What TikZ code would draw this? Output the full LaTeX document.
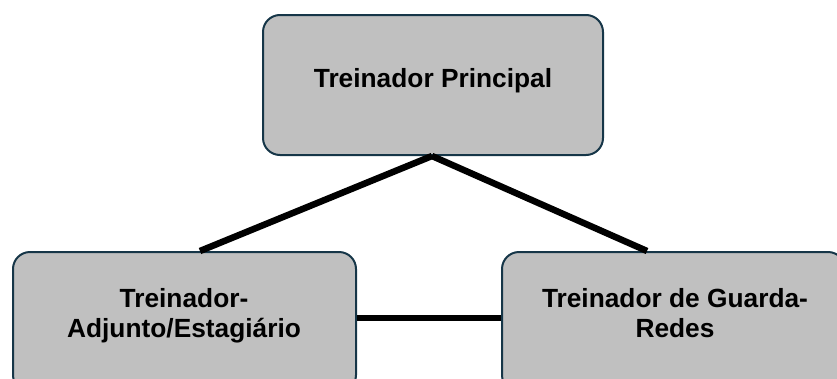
\documentclass[tikz,border=0pt]{standalone}
\usepackage{fontspec}
\setmainfont{Liberation Sans}
\definecolor{boxborder}{RGB}{22,54,72}
\definecolor{boxfill}{RGB}{192,192,192}
\begin{document}
\begin{tikzpicture}[x=1pt,y=-1pt,
  orgbox/.style={draw=boxborder,line width=2pt,fill=boxfill,rounded corners=17pt,
    minimum height=140pt,inner sep=0pt},
  orgtext/.style={font=\fontsize{26.3}{30}\selectfont\bfseries,align=center,anchor=base,inner sep=0pt,text=black},
  link/.style={line width=6.5pt,draw=black}]
\useasboundingbox (0,0) rectangle (837,378);
\clip (0,0) rectangle (837,378);
\node[orgbox,minimum width=340pt] (top) at (433,85) {};
\node[orgbox,minimum width=343pt] (lb) at (184.5,322) {};
\node[orgbox,minimum width=343pt] (rb) at (673.5,322) {};
\node[orgtext] (toptext) at (433,87) {Treinador Principal};
\node[orgtext] (lbtext) at (184,337) {Treinador-\\Adjunto/Estagiário};
\node[orgtext] (rbtext) at (675,337) {Treinador de Guarda-\\Redes};
\draw[link] ([xshift=-1pt]top.south) -- ([xshift=15.5pt]lb.north);
\draw[link] ([xshift=-1pt]top.south) -- ([xshift=-26.5pt]rb.north);
\draw[link] ([yshift=4pt]lb.east) -- ([yshift=4pt]rb.west);
\end{tikzpicture}
\end{document}
